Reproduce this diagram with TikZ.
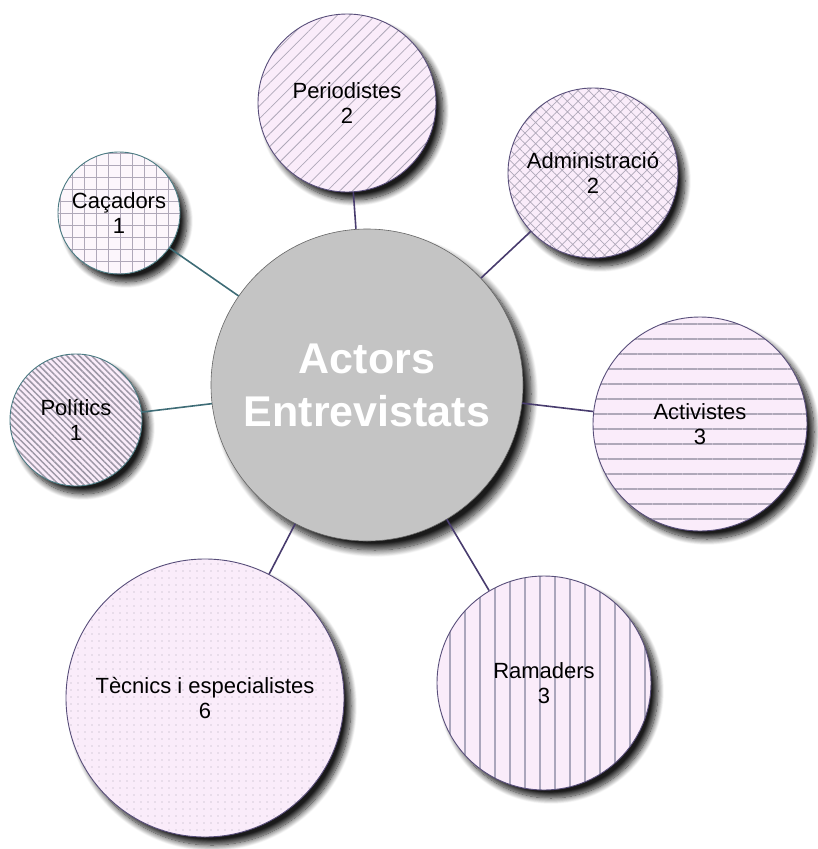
\documentclass[tikz,border=0pt]{standalone}
\usepackage{fontspec}
\setmainfont{Liberation Sans}
\usetikzlibrary{patterns.meta,shadows.blur}
\definecolor{pinkbg}{RGB}{250,236,250}
\definecolor{cacbg}{RGB}{252,246,252}
\definecolor{purpline}{RGB}{88,78,122}
\definecolor{tealline}{RGB}{74,122,130}
\definecolor{connpurp}{RGB}{72,60,110}
\definecolor{conteal}{RGB}{62,108,118}
\definecolor{hatchgray}{RGB}{175,168,185}
\definecolor{centgray}{RGB}{196,196,196}
\tikzset{
  sat/.style={circle, inner sep=0pt, draw=purpline, line width=0.9pt, align=center,
    font=\fontsize{22}{25}\selectfont, text=black,
    blur shadow={shadow xshift=7pt, shadow yshift=-8pt, shadow blur radius=6pt, shadow blur steps=12, shadow opacity=90},
    preaction={fill=pinkbg}},
  conn/.style={draw=connpurp, line width=1.6pt},
  connt/.style={draw=conteal, line width=1.6pt},
}
\begin{document}
\begin{tikzpicture}[x=1pt,y=-1pt]
\useasboundingbox (0,0) rectangle (817,849);
% central
\node[circle, minimum size=312pt, fill=centgray, draw=gray!80!black, line width=0.6pt,
  blur shadow={shadow xshift=8pt, shadow yshift=-9pt, shadow blur radius=7pt, shadow blur steps=12, shadow opacity=90},
  text=white, font=\bfseries\fontsize{43}{53}\selectfont, align=center] (cen) at (367,385) {Actors\\Entrevistats};
% satellites
\node[sat, minimum size=178pt, pattern={Lines[angle=45, distance=9pt, line width=0.8pt]}, pattern color=hatchgray] (per) at (347,103) {Periodistes\\2};
\node[sat, minimum size=170pt, pattern={Hatch[angle=45, distance=7.5pt, line width=0.7pt]}, pattern color=hatchgray] (adm) at (593,173) {Administració\\2};
\node[sat, minimum size=122pt, draw=tealline, preaction={fill=cacbg}, pattern={Hatch[angle=0, distance=12pt, line width=0.6pt]}, pattern color=hatchgray] (cac) at (119,213) {Caçadors\\1};
\node[sat, minimum size=132pt, draw=tealline, pattern={Lines[angle=-45, distance=4.4pt, line width=1.5pt]}, pattern color=hatchgray!90!black] (pol) at (76,420) {Polítics\\1};
\node[sat, minimum size=214pt, pattern={Lines[angle=0, distance=15pt, line width=1.1pt]}, pattern color=hatchgray] (act) at (700,424) {Activistes\\3};
\node[sat, minimum size=214pt, pattern={Lines[angle=90, distance=15pt, line width=1.1pt]}, pattern color=purpline!50] (ram) at (544,683) {Ramaders\\3};
\node[sat, minimum size=278pt, pattern={Dots[distance=6.5pt, radius=0.7pt]}, pattern color=hatchgray] (tec) at (205,698) {Tècnics i especialistes\\6};
% connectors
\draw[conn] (per) -- (cen);
\draw[conn] (adm) -- (cen);
\draw[connt] (cac) -- (cen);
\draw[connt] (pol) -- (cen);
\draw[conn] (act) -- (cen);
\draw[conn] (ram) -- (cen);
\draw[conn] (tec) -- (cen);
\end{tikzpicture}
\end{document}
